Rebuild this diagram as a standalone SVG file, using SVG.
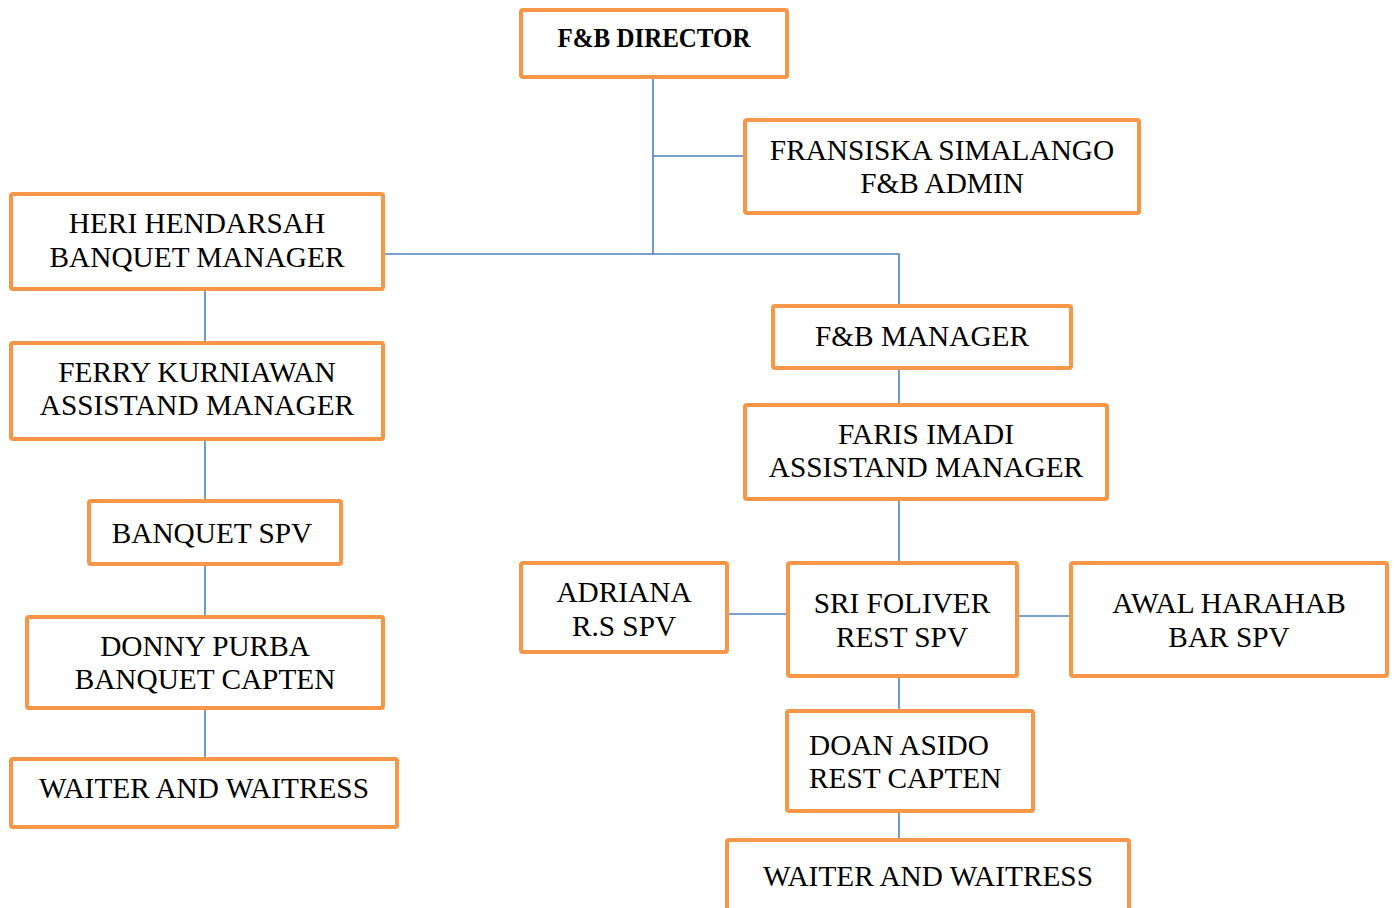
<svg xmlns="http://www.w3.org/2000/svg" width="1395" height="908" viewBox="0 0 1395 908">
<style>
.box{fill:#ffffff;stroke:#F79646;stroke-width:4;}
.t{font-family:"Liberation Serif","Times New Roman",serif;font-size:29.3px;fill:#000;text-anchor:middle;}
.b{font-weight:bold;font-size:27px;}
.l{text-anchor:start;}
.c{fill:none;stroke:#4F81BD;stroke-width:1.6;}
</style>
<rect width="1395" height="908" fill="#ffffff"/>
<g id="connectors">
<path class="c" d="M653 79V254M653 156H745M385 254H899V306"/>
<path class="c" d="M205 291V343M205 441V501M205 566V617M205 710V759"/>
<path class="c" d="M899 370V405M899 501V563M729 614H788M1019 616H1071M899 678V711M899 813V840"/>
</g>
<g id="director"><rect class="box" x="521" y="10" width="266" height="67" rx="2"/><text class="t b" x="654" y="47" textLength="193" lengthAdjust="spacingAndGlyphs">F&amp;B DIRECTOR</text></g>
<g id="fransiska"><rect class="box" x="745" y="120" width="394" height="93" rx="2"/><text class="t" x="942" y="160">FRANSISKA SIMALANGO</text><text class="t" x="942" y="193">F&amp;B ADMIN</text></g>
<g id="heri"><rect class="box" x="11" y="194" width="372" height="95" rx="2"/><text class="t" x="197" y="233">HERI HENDARSAH</text><text class="t" x="197" y="267">BANQUET MANAGER</text></g>
<g id="ferry"><rect class="box" x="11" y="343" width="372" height="96" rx="2"/><text class="t" x="197" y="382">FERRY KURNIAWAN</text><text class="t" x="197" y="415">ASSISTAND MANAGER</text></g>
<g id="banquet-spv"><rect class="box" x="89" y="501" width="252" height="63" rx="2"/><text class="t" x="212" y="543">BANQUET SPV</text></g>
<g id="donny"><rect class="box" x="27" y="617" width="356" height="91" rx="2"/><text class="t" x="205" y="656">DONNY PURBA</text><text class="t" x="205" y="689">BANQUET CAPTEN</text></g>
<g id="waiter-left"><rect class="box" x="11" y="759" width="386" height="68" rx="2"/><text class="t" x="204" y="798">WAITER AND WAITRESS</text></g>
<g id="fb-manager"><rect class="box" x="773" y="306" width="298" height="62" rx="2"/><text class="t" x="922" y="346">F&amp;B MANAGER</text></g>
<g id="faris"><rect class="box" x="745" y="405" width="362" height="94" rx="2"/><text class="t" x="926" y="444">FARIS IMADI</text><text class="t" x="926" y="477">ASSISTAND MANAGER</text></g>
<g id="adriana"><rect class="box" x="521" y="563" width="206" height="89" rx="2"/><text class="t" x="624" y="602">ADRIANA</text><text class="t" x="624" y="636">R.S SPV</text></g>
<g id="sri"><rect class="box" x="788" y="563" width="229" height="113" rx="2"/><text class="t" x="902" y="613">SRI FOLIVER</text><text class="t" x="902" y="647">REST SPV</text></g>
<g id="awal"><rect class="box" x="1071" y="563" width="316" height="113" rx="2"/><text class="t" x="1229" y="613">AWAL HARAHAB</text><text class="t" x="1229" y="647">BAR SPV</text></g>
<g id="doan"><rect class="box" x="787" y="711" width="246" height="100" rx="2"/><text class="t l" x="809" y="755">DOAN ASIDO</text><text class="t l" x="809" y="788">REST CAPTEN</text></g>
<g id="waiter-right"><rect class="box" x="727" y="840" width="402" height="80" rx="2"/><text class="t" x="928" y="886">WAITER AND WAITRESS</text></g>
</svg>
